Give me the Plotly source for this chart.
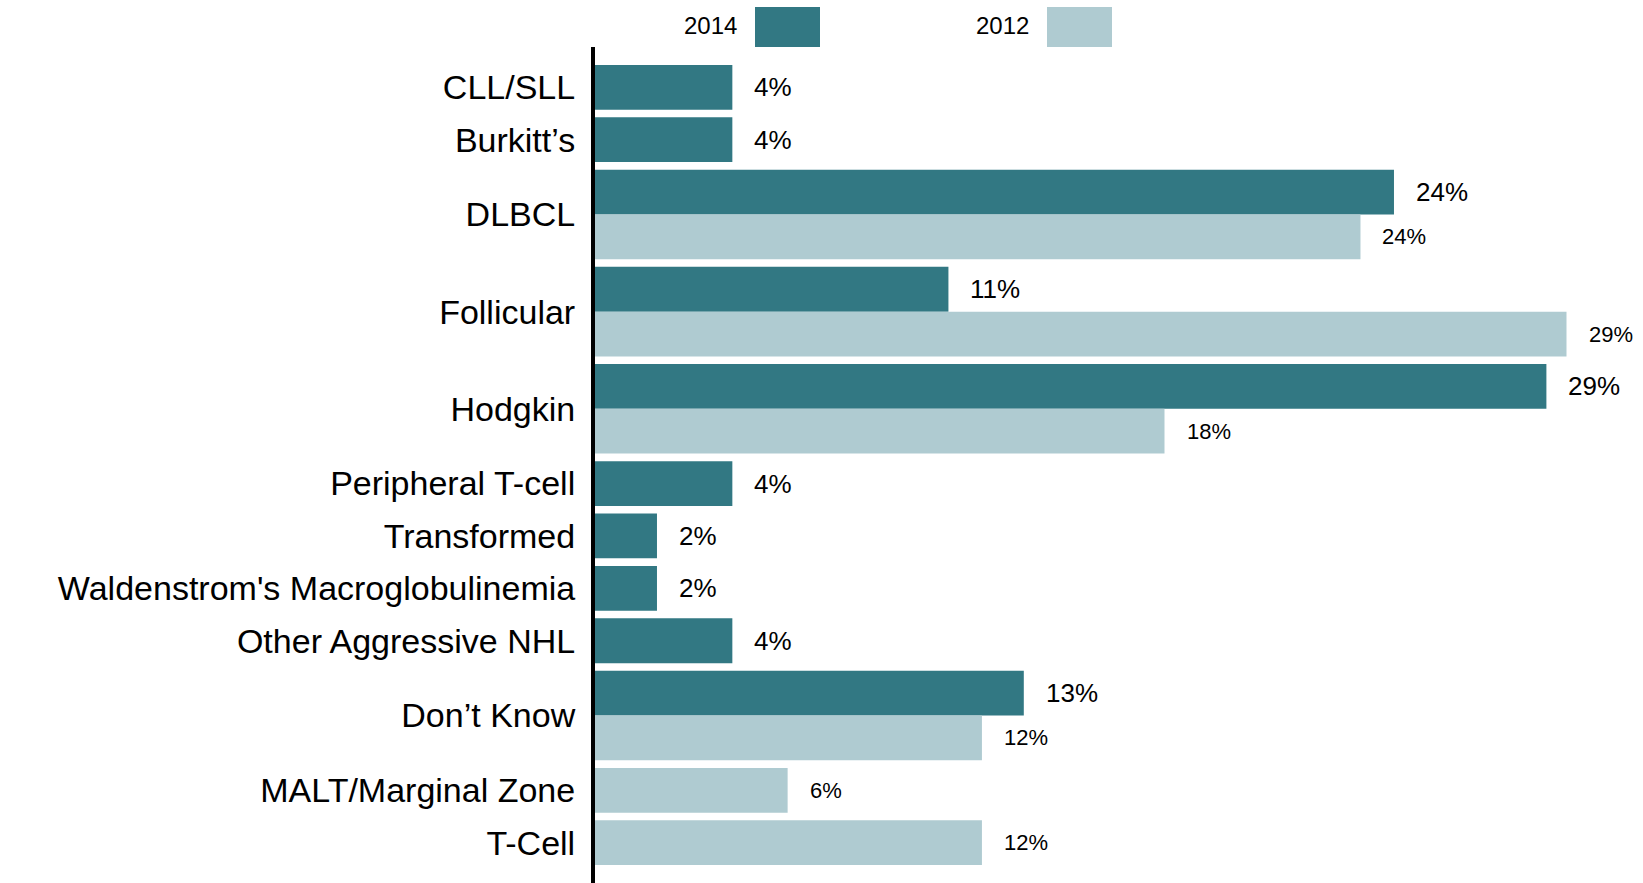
import plotly.graph_objects as go

# data
categories = ['CLL/SLL', 'Burkitt’s', 'DLBCL', 'Follicular', 'Hodgkin',
              'Peripheral T-cell', 'Transformed', "Waldenstrom's Macroglobulinemia",
              'Other Aggressive NHL', 'Don’t Know', 'MALT/Marginal Zone', 'T-Cell']
vals_2014 = [4.1, 4.1, 23.85, 10.55, 28.4, 4.1, 1.85, 1.85, 4.1, 12.8, None, None]
vals_2012 = [None, None, 22.85, 29.0, 17.0, None, None, None, None, 11.55, 5.75, 11.55]
labels_2014 = ['4%', '4%', '24%', '11%', '29%', '4%', '2%', '2%', '4%', '13%', None, None]
labels_2012 = [None, None, '24%', '29%', '18%', None, None, None, None, '12%', '6%', '12%']

C2014 = '#327883'
C2012 = '#AFCBD1'
FONT = 'Liberation Sans, Arial, sans-serif'

W, H = 1643, 883
L, R, T, B = 595, 43, 47, 0
GAP = 0.17   # gap between category groups, in bar heights
PAD = 0.4

# stack the bars: each present value takes one row, no gap inside a group
y14, x14, t14 = [], [], []
y12, x12, t12 = [], [], []
tickvals = []
pos = 0.0
for i, cat in enumerate(categories):
    start = pos
    if vals_2014[i] is not None:
        y14.append(pos + 0.5); x14.append(vals_2014[i]); t14.append(labels_2014[i])
        pos += 1
    if vals_2012[i] is not None:
        y12.append(pos + 0.5); x12.append(vals_2012[i]); t12.append(labels_2012[i])
        pos += 1
    tickvals.append((start + pos) / 2)
    pos += GAP
total = pos - GAP

fig = go.Figure()
fig.add_trace(go.Bar(x=x14, y=y14, orientation='h', width=1, marker_color=C2014,
                     marker_line_width=0, name='2014', hoverinfo='x'))
fig.add_trace(go.Bar(x=x12, y=y12, orientation='h', width=1, marker_color=C2012,
                     marker_line_width=0, name='2012', hoverinfo='x'))

annotations = []
for x, y, t in zip(x14, y14, t14):
    annotations.append(dict(x=x, y=y, text=t, showarrow=False, xanchor='left',
                            xshift=20, font=dict(size=26, color='black', family=FONT)))
for x, y, t in zip(x12, y12, t12):
    annotations.append(dict(x=x, y=y, text=t, showarrow=False, xanchor='left',
                            xshift=20, font=dict(size=22, color='black', family=FONT)))

# hand-drawn legend: label to the left of a big swatch
pw, ph = W - L - R, H - T - B
def px(xp):
    return (xp - L) / pw
def py(yp):
    return (H - B - yp) / ph

shapes = []
for name, col, txt_right, sw_left in [('2014', C2014, 739, 755), ('2012', C2012, 1031, 1047)]:
    shapes.append(dict(type='rect', xref='paper', yref='paper', x0=px(sw_left), x1=px(sw_left + 65),
                       y0=py(47), y1=py(7), fillcolor=col, line_width=0))
    annotations.append(dict(xref='paper', yref='paper', x=px(txt_right), y=py(26), text=name,
                            showarrow=False, xanchor='right', yanchor='middle',
                            font=dict(size=24, color='black', family=FONT)))

fig.update_layout(
    width=W, height=H,
    margin=dict(l=L, r=R, t=T, b=B, pad=0),
    paper_bgcolor='white', plot_bgcolor='white',
    barmode='overlay', showlegend=False,
    font=dict(family=FONT, color='black'),
    xaxis=dict(range=[0, 30], visible=False, fixedrange=True),
    yaxis=dict(range=[total + PAD, -PAD], tickvals=tickvals, ticktext=categories,
               showgrid=False, zeroline=False, showline=True, linecolor='black', linewidth=4,
               ticks='outside', ticklen=9, tickcolor='rgba(0,0,0,0)',
               tickfont=dict(size=34, color='black', family=FONT), fixedrange=True),
    annotations=annotations,
    shapes=shapes,
)

fig.write_html('out.html', config={'displayModeBar': False},
               post_script="document.body.style.margin='0';document.body.style.overflow='hidden';")
